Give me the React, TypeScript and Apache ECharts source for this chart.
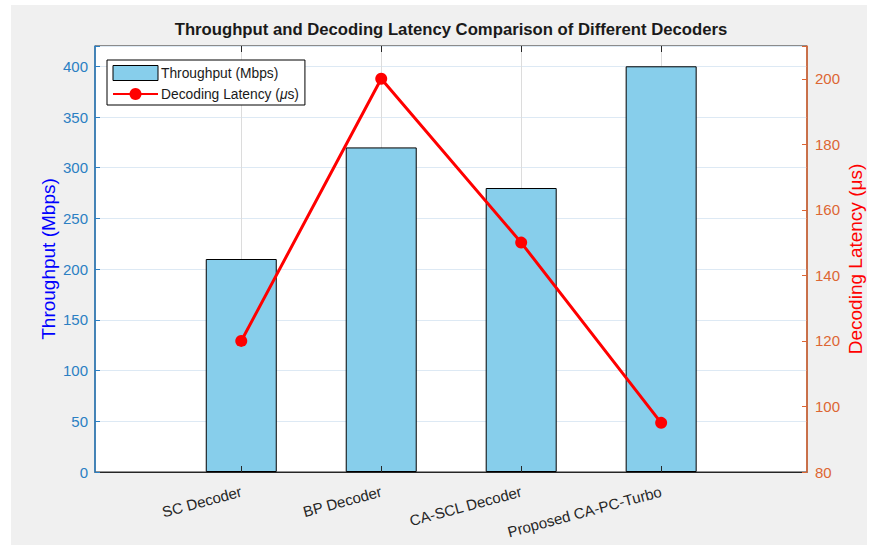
import React, { useEffect, useRef } from "react";
import * as echarts from "echarts";

const categories = ["SC Decoder", "BP Decoder", "CA-SCL Decoder", "Proposed CA-PC-Turbo"];
const throughput = [210, 320, 280, 400];
const latency = [120, 200, 150, 95];
const leftTicks = { min: 0, max: 420, interval: 50 };
const rightTicks = { min: 80, max: 210, interval: 20 };
const xRange = { min: -0.045, max: 5.042 };

const FONT = "'Liberation Sans', Arial, Helvetica, sans-serif";

export default function App() {
  const ref = useRef<HTMLDivElement>(null);
  useEffect(() => {
    if (!ref.current) return;
    const chart = echarts.init(ref.current, null, { renderer: "svg" });
    const positions = categories.map((_, i) => i + 1);
    const isInt = (v: number) => Math.abs(v - Math.round(v)) < 1e-6;
    chart.setOption({
      animation: false,
      backgroundColor: "#ffffff",
      textStyle: { fontFamily: FONT },
      graphic: [
        {
          type: "rect",
          z: -10,
          silent: true,
          shape: { x: 11, y: 5, width: 856, height: 540 },
          style: { fill: "#f0f0f0" },
        },
      ],
      title: {
        text: "Throughput and Decoding Latency Comparison of Different Decoders",
        left: 451,
        textAlign: "center",
        top: 21,
        padding: 0,
        textStyle: { fontSize: 16.7, fontWeight: "bold", color: "#1a1a1a", fontFamily: FONT },
      },
      legend: {
        orient: "vertical",
        left: 107,
        top: 60,
        padding: [5, 6, 4, 5],
        itemGap: 6,
        itemWidth: 45,
        itemHeight: 15,
        backgroundColor: "#ffffff",
        borderColor: "#000000",
        borderWidth: 1,
        borderRadius: 0,
        textStyle: {
          fontSize: 13.8,
          color: "#1a1a1a",
          fontFamily: FONT,
          padding: [0, 0, 0, -2],
          rich: { i: { fontStyle: "italic", fontSize: 13.8, fontFamily: FONT, color: "#1a1a1a" } },
        },
        formatter: (name: string) => name.replace("μ", "{i|μ}"),
        data: [
          { name: "Throughput (Mbps)", icon: "rect", itemStyle: { borderWidth: 1, borderColor: "#000" } },
          { name: "Decoding Latency (μs)" },
        ],
      },
      grid: {
        left: 95,
        top: 46,
        width: 712,
        height: 426,
        outerBoundsMode: "none",
        containLabel: false,
        show: true,
        borderColor: "#262626",
        borderWidth: 1,
        backgroundColor: "#ffffff",
      },
      xAxis: {
        type: "value",
        min: xRange.min,
        max: xRange.max,
        minInterval: 1,
        maxInterval: 1,
        axisLine: { show: true, onZero: false, lineStyle: { color: "#262626" } },
        axisTick: { show: false },
        splitLine: { show: false },
        axisLabel: {
          rotate: 15,
          margin: 19,
          fontSize: 15,
          color: "#262626",
          fontFamily: FONT,
          showMinLabel: false,
          showMaxLabel: false,
          formatter: (v: number) =>
            isInt(v) && v >= 1 && v <= categories.length ? categories[Math.round(v) - 1] : "",
        },
      },
      yAxis: [
        {
          type: "value",
          position: "left",
          min: leftTicks.min,
          max: leftTicks.max,
          interval: leftTicks.interval,
          name: "Throughput (Mbps)",
          nameLocation: "middle",
          nameGap: 37,
          nameMoveOverlap: false,
          nameTextStyle: { color: "#0000ff", fontSize: 19, fontFamily: FONT },
          axisLine: { show: true, onZero: false, lineStyle: { color: "#2b7fc3", width: 1.5 } },
          axisTick: { show: true, inside: true, length: 5, lineStyle: { color: "#2b7fc3" } },
          axisLabel: {
            color: "#2b7fc3",
            fontSize: 15,
            margin: 7,
            fontFamily: FONT,
            formatter: (v: number) => (v % leftTicks.interval === 0 ? String(v) : ""),
          },
          splitLine: { show: true, lineStyle: { color: "#dde9f4", width: 1 } },
        },
        {
          type: "value",
          position: "right",
          min: rightTicks.min,
          max: rightTicks.max,
          interval: rightTicks.interval,
          name: "Decoding Latency (μs)",
          nameLocation: "middle",
          nameGap: 39,
          nameMoveOverlap: false,
          nameRotate: 90,
          nameTextStyle: { color: "#ff0000", fontSize: 19, fontFamily: FONT },
          axisLine: { show: true, onZero: false, lineStyle: { color: "#dd6633", width: 1.5 } },
          axisTick: { show: true, inside: true, length: 5, lineStyle: { color: "#dd6633" } },
          axisLabel: {
            color: "#dd6633",
            fontSize: 15,
            margin: 8,
            fontFamily: FONT,
            formatter: (v: number) => ((v - rightTicks.min) % rightTicks.interval === 0 ? String(v) : ""),
          },
          splitLine: { show: false },
        },
      ],
      series: [
        {
          type: "custom",
          name: "vgrid",
          z: 1,
          silent: true,
          xAxisIndex: 0,
          yAxisIndex: 0,
          data: positions.map((p) => [p, 0]),
          renderItem: (params: any, api: any) => {
            const cs = params.coordSys;
            const x = Math.round(api.coord([api.value(0), 0])[0]) + 0.5;
            return {
              type: "line",
              shape: { x1: x, y1: cs.y, x2: x, y2: cs.y + cs.height },
              style: { stroke: "#dcdcdc", lineWidth: 1 },
            };
          },
        },
        {
          type: "bar",
          name: "Throughput (Mbps)",
          xAxisIndex: 0,
          yAxisIndex: 0,
          z: 2,
          barWidth: 71,
          data: positions.map((p, i) => [p, throughput[i]]),
          itemStyle: { color: "#87ceeb", borderColor: "#000000", borderWidth: 1 },
        },
        {
          type: "custom",
          name: "xticks",
          z: 3,
          silent: true,
          xAxisIndex: 0,
          yAxisIndex: 0,
          data: positions.map((p) => [p, 0]),
          renderItem: (params: any, api: any) => {
            const cs = params.coordSys;
            const x = Math.round(api.coord([api.value(0), 0])[0]) + 0.5;
            return {
              type: "group",
              children: [
                {
                  type: "line",
                  shape: { x1: x, y1: cs.y + cs.height, x2: x, y2: cs.y + cs.height - 6 },
                  style: { stroke: "#262626", lineWidth: 1 },
                },
                {
                  type: "line",
                  shape: { x1: x, y1: cs.y, x2: x, y2: cs.y + 6 },
                  style: { stroke: "#262626", lineWidth: 1 },
                },
              ],
            };
          },
        },
        {
          type: "line",
          name: "Decoding Latency (μs)",
          xAxisIndex: 0,
          yAxisIndex: 1,
          z: 4,
          data: positions.map((p, i) => [p, latency[i]]),
          symbol: "circle",
          symbolSize: 12,
          lineStyle: { color: "#ff0000", width: 3 },
          itemStyle: { color: "#ff0000" },
        },
      ],
    });
    return () => chart.dispose();
  }, []);
  return (
    <div style={{ position: "fixed", left: 0, top: 0, width: 869, height: 546, background: "#ffffff" }}>
      <div ref={ref} style={{ width: 869, height: 546 }} />
    </div>
  );
}
